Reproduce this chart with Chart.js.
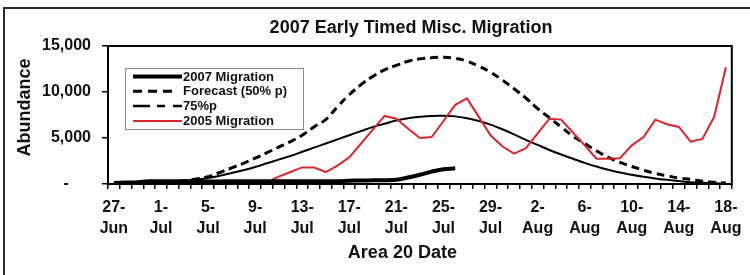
<!DOCTYPE html>
<html><head><meta charset="utf-8">
<script src="https://cdn.jsdelivr.net/npm/chart.js@4/dist/chart.umd.min.js"></script>
<style>
html,body{margin:0;padding:0;background:#fff;overflow:hidden;width:750px;height:275px;}
#frame{position:absolute;left:3px;top:7px;width:800px;height:320px;border:2px solid #2a2a2a;box-sizing:border-box;}
#wrap{position:absolute;left:0;top:0;width:750px;height:275px;}
</style></head><body>
<div id="frame"></div>
<div id="wrap"><canvas id="c" width="750" height="275"></canvas></div>
<script>
const dates = ['27-Jun','28-Jun','29-Jun','30-Jun',
'1-Jul','2-Jul','3-Jul','4-Jul','5-Jul','6-Jul','7-Jul','8-Jul','9-Jul','10-Jul','11-Jul','12-Jul','13-Jul','14-Jul','15-Jul','16-Jul',
'17-Jul','18-Jul','19-Jul','20-Jul','21-Jul','22-Jul','23-Jul','24-Jul','25-Jul','26-Jul','27-Jul','28-Jul','29-Jul','30-Jul','31-Jul',
'1-Aug','2-Aug','3-Aug','4-Aug','5-Aug','6-Aug','7-Aug','8-Aug','9-Aug','10-Aug','11-Aug','12-Aug','13-Aug','14-Aug','15-Aug','16-Aug','17-Aug','18-Aug'];

const migration2007 = [100,150,200,300,300,300,300,280,280,280,300,300,300,300,300,300,300,300,300,300,
350,380,400,400,450,700,1000,1350,1600,1700,
null,null,null,null,null,null,null,null,null,null,null,null,null,null,null,null,null,null,null,null,null,null,null];

const forecast50 = [20,30,50,80,120,200,350,550,800,1250,1750,2250,2800,3400,4000,4600,5300,6200,7000,8400,
9700,10800,11700,12400,12900,13350,13600,13720,13770,13650,13350,12800,12150,11300,10350,9350,8200,7200,6200,5200,
4400,3600,2900,2350,1900,1500,1150,900,650,500,300,180,100];

const p75 = [20,40,60,90,130,200,300,450,650,900,1200,1500,1850,2250,2650,3050,3500,3950,4400,4850,
5300,5750,6200,6550,6900,7150,7300,7400,7420,7350,7150,6850,6450,5950,5400,4800,4250,3700,3200,2750,
2300,1900,1550,1250,1000,780,600,450,320,200,130,80,50];

const migration2005 = [0,0,0,0,0,0,0,0,0,0,50,200,250,200,800,1300,1800,1800,1300,2000,
2900,4400,5900,7400,7100,6000,5000,5100,6850,8600,9300,7300,5300,4100,3300,3900,5500,7100,7000,5600,
4200,2750,2750,2800,4200,5100,7000,6500,6200,4600,4900,7300,12700];

const yTicks = [0,5000,10000,15000];
const seriesNames = ['2007 Migration','Forecast (50% p)','75%p','2005 Migration'];

const FONT = "'Liberation Sans', Arial, sans-serif";

const plotBox = {
  id:'plotBox',
  afterDraw(chart){
    const {ctx, chartArea:a} = chart;
    ctx.save();
    ctx.strokeStyle='#000'; ctx.lineWidth=2;
    ctx.strokeRect(a.left, a.top, a.right-a.left, a.bottom-a.top);
    ctx.restore();
  }
};

const boxLegend = {
  id:'boxLegend',
  afterDatasetsDraw(chart){
    const {ctx, chartArea:a} = chart;
    const x0 = a.left + 17, y0 = a.top + 22, w = 178, h = 61;
    ctx.save();
    ctx.fillStyle='#fff'; ctx.fillRect(x0,y0,w,h);
    ctx.strokeStyle='#8a8a8a'; ctx.lineWidth=1;
    ctx.strokeRect(x0+0.5,y0+0.5,w,h);
    ctx.font = "bold 13px " + FONT;
    ctx.textBaseline='middle'; ctx.textAlign='left';
    chart.data.datasets.forEach((ds,i)=>{
      const y = y0 + 8.5 + i*14.8;
      ctx.beginPath();
      ctx.strokeStyle = ds.borderColor;
      ctx.lineWidth = ds.legendWidth || ds.borderWidth;
      ctx.setLineDash(ds.legendDash || []);
      ctx.moveTo(x0+8, y); ctx.lineTo(x0+ (ds.legendEnd||57), y);
      ctx.stroke();
      ctx.setLineDash([]);
      ctx.fillStyle='#111';
      ctx.fillText(ds.label, x0+58, y+0.5);
    });
    ctx.restore();
  }
};

new Chart(document.getElementById('c'), {
  type:'line',
  data:{
    labels: dates,
    datasets:[
      {label:seriesNames[0], data:migration2007, borderColor:'#000', borderWidth:4, tension:0.4, pointRadius:0, spanGaps:false, order:0},
      {label:seriesNames[1], data:forecast50, borderColor:'#000', borderWidth:3, borderDash:[8,5], tension:0.4, pointRadius:0, order:3, legendDash:[9,6], legendEnd:47},
      {label:seriesNames[2], data:p75, borderColor:'#000', borderWidth:2, tension:0.4, pointRadius:0, order:2, legendDash:[17,7,8,8,9], legendWidth:2.5},
      {label:seriesNames[3], data:migration2005, borderColor:'#d8262b', borderWidth:2, tension:0, pointRadius:0, order:1}
    ]
  },
  options:{
    responsive:false, animation:false, devicePixelRatio:1,
    layout:{padding:{left:0,right:3,top:0,bottom:0}},
    plugins:{
      legend:{display:false}, tooltip:{enabled:false},
      title:{display:true, text:'               2007 Early Timed Misc. Migration', color:'#111',
        font:{family:FONT, size:18, weight:'bold', lineHeight:1.2}, padding:{top:17,bottom:7.4}}
    },
    scales:{
      x:{
        offset:true,
        afterFit(s){ s.height = 91; },
        grid:{display:true, drawOnChartArea:false, drawTicks:true, tickLength:5, color:'#000', lineWidth:1.5, offset:true},
        border:{display:true, color:'#000', width:2},
        ticks:{autoSkip:false, maxRotation:0, minRotation:0, padding:8.5, color:'#111',
          font:{family:FONT, size:16, weight:'bold', lineHeight:1.3},
          callback:(v,i)=> i%4===0 ? [dates[i].split('-')[0]+'-', dates[i].split('-')[1]] : ''},
        title:{display:true, text:'Area 20 Date       ', color:'#111',
          font:{family:FONT, size:18, weight:'bold', lineHeight:1.2}, padding:{top:0,bottom:11}}
      },
      y:{
        min:0, max:15000,
        afterFit(s){ s.width = 108; },
        afterBuildTicks(s){ s.ticks = yTicks.map(v=>({value:v})); },
        grid:{display:true, drawOnChartArea:false, drawTicks:true, tickLength:6, color:'#000', lineWidth:1.5},
        border:{display:true, color:'#000', width:2},
        ticks:{padding:11, color:'#111', font:{family:FONT, size:16, weight:'bold'},
          callback:v=> v===0 ? '-     ' : v.toLocaleString('en-US')},
        title:{display:true, text:'   Abundance', color:'#111',
          font:{family:FONT, size:18, weight:'bold', lineHeight:1.2}, padding:{top:14,bottom:0}}
      }
    }
  },
  plugins:[plotBox, boxLegend]
});
</script>
</body></html>
